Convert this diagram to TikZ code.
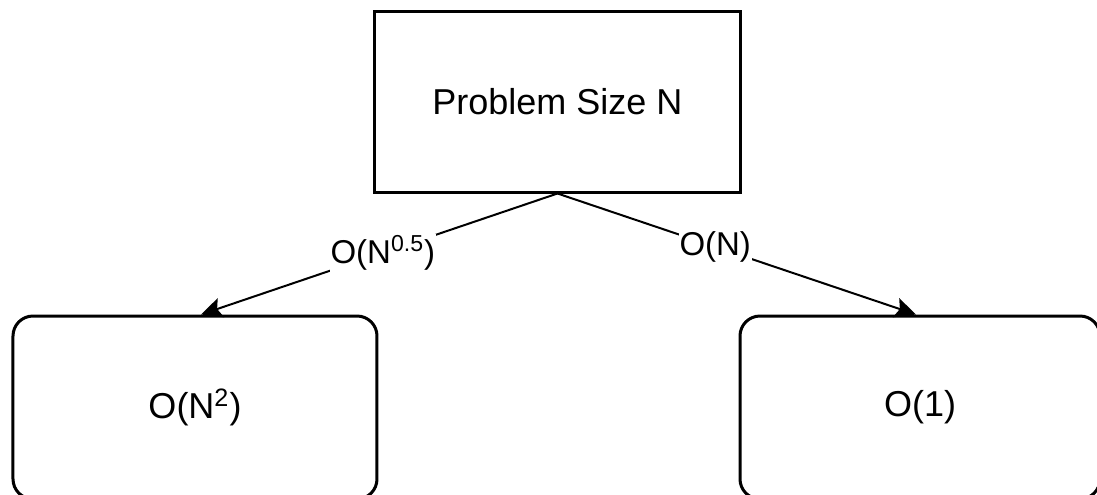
\documentclass[tikz,border=0pt]{standalone}
\usepackage{fontspec}
\setmainfont{Liberation Sans}
\usetikzlibrary{positioning,arrows.meta}

\begin{document}
\begin{tikzpicture}
    \tikzset{
        sizebox/.style={draw, line width=1.5pt, minimum width=182.5pt, minimum height=90.5pt, font=\fontsize{18}{20}\selectfont},
        costbox/.style={sizebox, rounded corners=10pt, minimum width=182pt, minimum height=91.5pt},
        split/.style={line width=1pt, -{Stealth[length=10.5pt,width=10pt,inset=2pt]}},
        cost/.style={fill=white, inner sep=0.5pt, font=\fontsize{16.5}{18}\selectfont},
    }
    \useasboundingbox (-278.75pt,-196.25pt) rectangle (269.75pt,50.75pt);
    \node[sizebox] (problem) at (0,0) {Problem Size N};
    \node[costbox, below left=60.5pt and -2.5pt of problem] (quadratic) {O(N\textsuperscript{2})};
    \node[costbox, below right=60.5pt and -1.5pt of problem, minimum width=180pt] (constant) {O(1)};
    % the two ways of splitting the problem
    \draw[split] (problem.south) -- node[cost, pos=0.49] {O(N\textsuperscript{0.5})} ([xshift=3pt]quadratic.north);
    \draw[split] (problem.south) -- node[cost, pos=0.44] {O(N)} ([xshift=-2pt]constant.north);
\end{tikzpicture}
\end{document}
